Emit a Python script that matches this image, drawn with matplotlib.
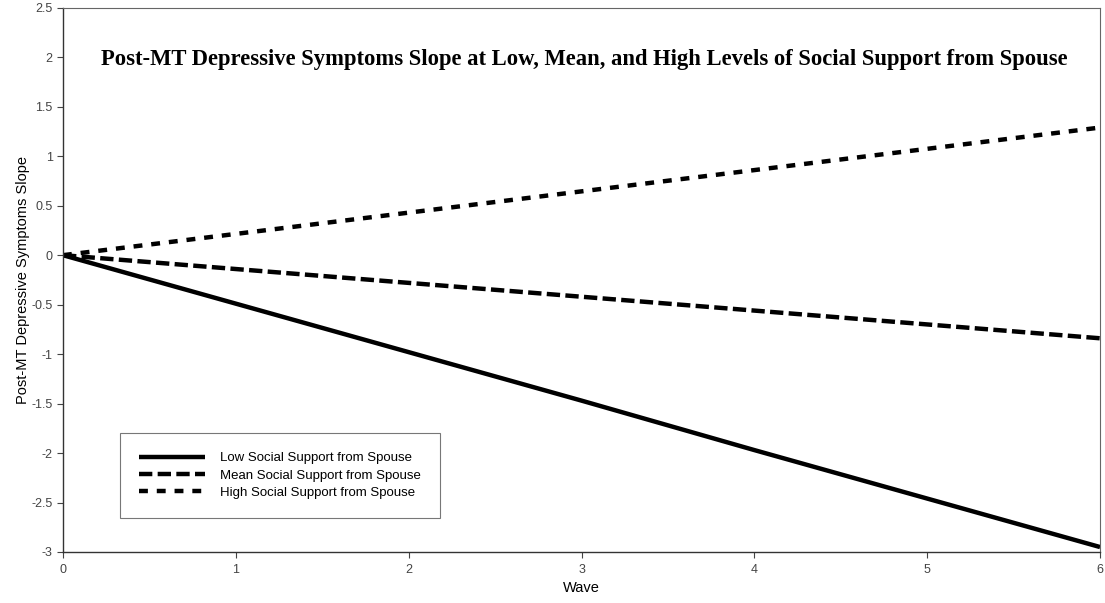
import matplotlib
matplotlib.use("Agg")
import matplotlib.pyplot as plt

# data
waves = [0, 1, 2, 3, 4, 5, 6]
low_support = [0, -0.49, -0.98, -1.47, -1.97, -2.46, -2.95]
mean_support = [0, -0.14, -0.28, -0.42, -0.56, -0.70, -0.84]
high_support = [0, 0.215, 0.43, 0.645, 0.86, 1.075, 1.29]

x_ticks = [0, 1, 2, 3, 4, 5, 6]
y_ticks = [-3, -2.5, -2, -1.5, -1, -0.5, 0, 0.5, 1, 1.5, 2, 2.5]

fig = plt.figure(figsize=(11.05, 6.03), dpi=100)
ax = fig.add_axes([0.057, 0.0846, 0.9385, 0.9024])

ax.plot(waves, low_support, color="black", lw=3.2, solid_capstyle="butt",
        label="Low Social Support from Spouse")
ax.plot(waves, mean_support, color="black", lw=3.2, dashes=(3, 1.2),
        label="Mean Social Support from Spouse")
ax.plot(waves, high_support, color="black", lw=3.2, dashes=(2, 2),
        label="High Social Support from Spouse")

ax.set_xlim(0, 6)
ax.set_ylim(-3, 2.5)
ax.set_xticks(x_ticks)
ax.set_xticklabels([str(t) for t in x_ticks])
ax.set_yticks(y_ticks)
ax.set_yticklabels(["%g" % t for t in y_ticks])

for lab in ax.get_xticklabels() + ax.get_yticklabels():
    lab.set_fontfamily("Liberation Sans")
    lab.set_fontsize(9)
    lab.set_color("#333333")
ax.tick_params(direction="out", length=4, width=0.8, colors="#444444")
ax.tick_params(axis="x", pad=5)
for side in ["top", "right"]:
    ax.spines[side].set_color("#666666")
    ax.spines[side].set_linewidth(0.8)
for side in ["left", "bottom"]:
    ax.spines[side].set_color("#333333")
    ax.spines[side].set_linewidth(1.0)

ax.set_xlabel("Wave", fontdict={"family": "Liberation Sans", "size": 10.5}, labelpad=3)
ax.set_ylabel("Post-MT Depressive Symptoms Slope",
              fontdict={"family": "Liberation Sans", "size": 10.5}, labelpad=1)

ax.text(0.503, 0.905,
        "Post-MT Depressive Symptoms Slope at Low, Mean, and High Levels of Social Support from Spouse",
        transform=ax.transAxes, ha="center", va="center",
        fontdict={"family": "Liberation Serif", "size": 16.3, "weight": "bold"})

leg = ax.legend(loc="lower left", bbox_to_anchor=(0.055, 0.0625), borderaxespad=0,
                fancybox=False, handlelength=5.0, handletextpad=1.1,
                borderpad=1.45, labelspacing=0.38,
                prop={"family": "Liberation Sans", "size": 9.5})
leg.get_frame().set_edgecolor("#555555")
leg.get_frame().set_linewidth(0.8)

fig.savefig("out.png", dpi=100)
